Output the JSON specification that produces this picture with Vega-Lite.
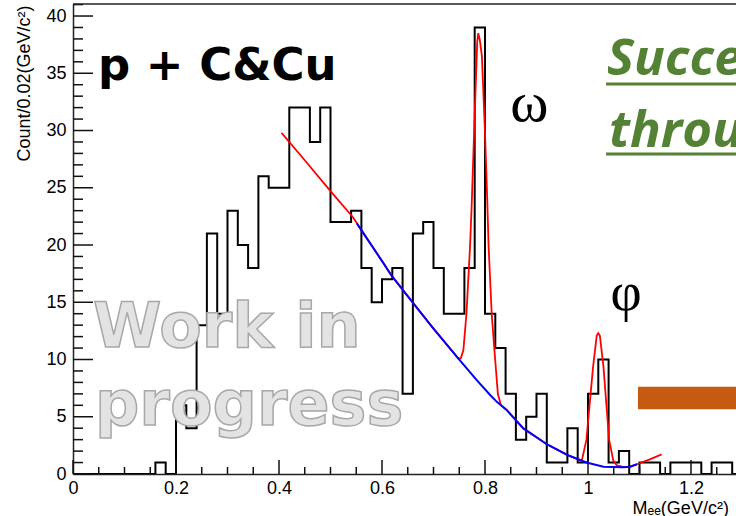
{
  "$schema": "https://vega.github.io/schema/vega-lite/v6.json",
  "autosize": {"type": "none"},
  "padding": {"left": 73, "top": 4, "right": 0, "bottom": 42},
  "width": 663,
  "height": 470,
  "background": "white",
  "config": {"view": {"stroke": null}},
  "data": {"values": [{}]},
  "datasets": {
    "hist": [
      {"m": 0.00, "n": 0}, {"m": 0.02, "n": 0}, {"m": 0.04, "n": 0}, {"m": 0.06, "n": 0},
      {"m": 0.08, "n": 0}, {"m": 0.10, "n": 0}, {"m": 0.12, "n": 0}, {"m": 0.14, "n": 0},
      {"m": 0.16, "n": 1}, {"m": 0.18, "n": 0}, {"m": 0.20, "n": 6}, {"m": 0.22, "n": 4},
      {"m": 0.24, "n": 13}, {"m": 0.26, "n": 21}, {"m": 0.28, "n": 14}, {"m": 0.30, "n": 23},
      {"m": 0.32, "n": 20}, {"m": 0.34, "n": 18}, {"m": 0.36, "n": 26}, {"m": 0.38, "n": 25},
      {"m": 0.40, "n": 25}, {"m": 0.42, "n": 32}, {"m": 0.44, "n": 32}, {"m": 0.46, "n": 29},
      {"m": 0.48, "n": 32}, {"m": 0.50, "n": 22}, {"m": 0.52, "n": 22}, {"m": 0.54, "n": 23},
      {"m": 0.56, "n": 18}, {"m": 0.58, "n": 15}, {"m": 0.60, "n": 17}, {"m": 0.62, "n": 18},
      {"m": 0.64, "n": 7}, {"m": 0.66, "n": 21}, {"m": 0.68, "n": 22}, {"m": 0.70, "n": 18},
      {"m": 0.72, "n": 14}, {"m": 0.74, "n": 14}, {"m": 0.76, "n": 18}, {"m": 0.78, "n": 39},
      {"m": 0.80, "n": 14}, {"m": 0.82, "n": 11}, {"m": 0.84, "n": 7}, {"m": 0.86, "n": 3},
      {"m": 0.88, "n": 5}, {"m": 0.90, "n": 7}, {"m": 0.92, "n": 1}, {"m": 0.94, "n": 1},
      {"m": 0.96, "n": 4}, {"m": 0.98, "n": 1}, {"m": 1.00, "n": 7}, {"m": 1.02, "n": 10},
      {"m": 1.04, "n": 1}, {"m": 1.06, "n": 2}, {"m": 1.08, "n": 0}, {"m": 1.10, "n": 1},
      {"m": 1.12, "n": 1}, {"m": 1.14, "n": 0}, {"m": 1.16, "n": 1}, {"m": 1.18, "n": 1},
      {"m": 1.20, "n": 1}, {"m": 1.22, "n": 0}, {"m": 1.24, "n": 1}, {"m": 1.26, "n": 1},
      {"m": 1.28, "n": 0}, {"m": 1.30, "n": 0}
    ],
    "total": [
      {"m": 0.405, "n": 29.8}, {"m": 0.45, "n": 27.4}, {"m": 0.50, "n": 24.7}, {"m": 0.544, "n": 22.4},
      {"m": 0.557, "n": 21.5}, {"m": 0.603, "n": 18.4}, {"m": 0.619, "n": 17.3}, {"m": 0.661, "n": 14.9},
      {"m": 0.70, "n": 12.7}, {"m": 0.748, "n": 10.1}, {"m": 0.753, "n": 10.1}, {"m": 0.758, "n": 10.8},
      {"m": 0.764, "n": 14.0}, {"m": 0.771, "n": 19.9}, {"m": 0.774, "n": 23.3}, {"m": 0.781, "n": 32.7},
      {"m": 0.785, "n": 37.8}, {"m": 0.787, "n": 38.5}, {"m": 0.790, "n": 37.9}, {"m": 0.794, "n": 36.5},
      {"m": 0.800, "n": 29.8}, {"m": 0.804, "n": 24.5}, {"m": 0.807, "n": 19.9}, {"m": 0.813, "n": 14.0},
      {"m": 0.818, "n": 11.0}, {"m": 0.825, "n": 7.0}, {"m": 0.831, "n": 6.0}, {"m": 0.842, "n": 5.6},
      {"m": 0.874, "n": 4.0}, {"m": 0.92, "n": 2.6}, {"m": 0.96, "n": 1.66}, {"m": 0.98, "n": 1.3},
      {"m": 0.988, "n": 1.15}, {"m": 0.997, "n": 3.0}, {"m": 1.004, "n": 6.5}, {"m": 1.010, "n": 9.4},
      {"m": 1.017, "n": 12.1}, {"m": 1.020, "n": 12.3}, {"m": 1.023, "n": 12.1}, {"m": 1.030, "n": 9.4},
      {"m": 1.036, "n": 5.9}, {"m": 1.041, "n": 3.0}, {"m": 1.049, "n": 1.2}, {"m": 1.056, "n": 0.75},
      {"m": 1.07, "n": 0.6}, {"m": 1.082, "n": 0.64}, {"m": 1.095, "n": 0.85}, {"m": 1.12, "n": 1.28},
      {"m": 1.143, "n": 1.72}
    ],
    "bkg": [
      {"m": 0.551, "n": 21.9}, {"m": 0.557, "n": 21.5}, {"m": 0.603, "n": 18.4}, {"m": 0.619, "n": 17.3},
      {"m": 0.661, "n": 14.9}, {"m": 0.70, "n": 12.7}, {"m": 0.748, "n": 10.1}, {"m": 0.784, "n": 8.2},
      {"m": 0.81, "n": 6.9}, {"m": 0.823, "n": 6.3}, {"m": 0.842, "n": 5.6}, {"m": 0.874, "n": 4.0},
      {"m": 0.92, "n": 2.6}, {"m": 0.96, "n": 1.66}, {"m": 0.997, "n": 1.0}, {"m": 1.03, "n": 0.64},
      {"m": 1.069, "n": 0.59}, {"m": 1.082, "n": 0.64}, {"m": 1.095, "n": 0.85}
    ]
  },
  "layer": [
    {
      "data": {"name": "hist"},
      "mark": {"type": "line", "interpolate": "step-after", "color": "black", "strokeWidth": 2, "clip": true},
      "encoding": {
        "x": {
          "field": "m", "type": "quantitative",
          "scale": {"domain": [0, 1.2874], "nice": false, "zero": false},
          "axis": {
            "orient": "bottom",
            "values": [0, 0.2, 0.4, 0.6, 0.8, 1, 1.2],
            "format": "~g",
            "ticks": false,
            "grid": false,
            "domain": true, "domainColor": "#222", "domainWidth": 1.5,
            "labelFont": "Liberation Sans", "labelFontSize": 18, "labelColor": "black",
            "labelPadding": 5, "labelFlush": false, "labelOverlap": false,
            "title": "Mₑₑ(GeV/c²)",
            "titleFont": "Liberation Sans", "titleFontSize": 18, "titleFontWeight": "normal", "titleColor": "black",
            "titleX": 559, "titleY": 39, "titleAlign": "left", "titleBaseline": "alphabetic", "titleAnchor": null
          }
        },
        "y": {
          "field": "n", "type": "quantitative",
          "scale": {"domain": [0, 41.05], "nice": false, "zero": false},
          "axis": {
            "orient": "left",
            "values": [0, 5, 10, 15, 20, 25, 30, 35, 40],
            "ticks": false,
            "grid": false,
            "domain": true, "domainColor": "#222", "domainWidth": 1.5,
            "labelFont": "Liberation Sans", "labelFontSize": 18, "labelColor": "black",
            "labelPadding": 7, "labelOverlap": false, "labelFlush": false,
            "title": "Count/0.02(GeV/c²)",
            "titleFont": "Liberation Sans", "titleFontSize": 18, "titleFontWeight": "normal", "titleColor": "black",
            "titleX": -49, "titleY": 1, "titleAngle": -90, "titleAlign": "right", "titleBaseline": "middle", "titleAnchor": null
          }
        }
      }
    },
    {
      "data": {"values": [{"v": 0}, {"v": 0.2}, {"v": 0.4}, {"v": 0.6}, {"v": 0.8}, {"v": 1.0}, {"v": 1.2}]},
      "mark": {"type": "rule", "color": "#111", "strokeWidth": 1.5},
      "encoding": {"x": {"field": "v", "type": "quantitative"}, "y": {"datum": 0}, "y2": {"datum": 1.22}}
    },
    {
      "data": {"values": [
        {"v": 0.05}, {"v": 0.1}, {"v": 0.15}, {"v": 0.25}, {"v": 0.3}, {"v": 0.35}, {"v": 0.45},
        {"v": 0.5}, {"v": 0.55}, {"v": 0.65}, {"v": 0.7}, {"v": 0.75}, {"v": 0.85}, {"v": 0.9},
        {"v": 0.95}, {"v": 1.05}, {"v": 1.1}, {"v": 1.15}, {"v": 1.25}
      ]},
      "mark": {"type": "rule", "color": "#111", "strokeWidth": 1.5},
      "encoding": {"x": {"field": "v", "type": "quantitative"}, "y": {"datum": 0}, "y2": {"datum": 0.61}}
    },
    {
      "data": {"values": [{"v": 0}, {"v": 5}, {"v": 10}, {"v": 15}, {"v": 20}, {"v": 25}, {"v": 30}, {"v": 35}, {"v": 40}]},
      "mark": {"type": "rule", "color": "#111", "strokeWidth": 1.5},
      "encoding": {"y": {"field": "v", "type": "quantitative"}, "x": {"datum": 0}, "x2": {"datum": 0.0388}}
    },
    {
      "data": {"values": [
        {"v": 1}, {"v": 2}, {"v": 3}, {"v": 4}, {"v": 6}, {"v": 7}, {"v": 8}, {"v": 9},
        {"v": 11}, {"v": 12}, {"v": 13}, {"v": 14}, {"v": 16}, {"v": 17}, {"v": 18}, {"v": 19},
        {"v": 21}, {"v": 22}, {"v": 23}, {"v": 24}, {"v": 26}, {"v": 27}, {"v": 28}, {"v": 29},
        {"v": 31}, {"v": 32}, {"v": 33}, {"v": 34}, {"v": 36}, {"v": 37}, {"v": 38}, {"v": 39}, {"v": 41}
      ]},
      "mark": {"type": "rule", "color": "#111", "strokeWidth": 1.5},
      "encoding": {"y": {"field": "v", "type": "quantitative"}, "x": {"datum": 0}, "x2": {"datum": 0.0194}}
    },
    {
      "data": {"name": "total"},
      "mark": {"type": "line", "color": "#ff0000", "strokeWidth": 1.8, "clip": true},
      "encoding": {
        "x": {"field": "m", "type": "quantitative"},
        "y": {"field": "n", "type": "quantitative"}
      }
    },
    {
      "data": {"name": "bkg"},
      "mark": {"type": "line", "color": "#0000ff", "strokeWidth": 2, "clip": true},
      "encoding": {
        "x": {"field": "m", "type": "quantitative"},
        "y": {"field": "n", "type": "quantitative"}
      }
    },
    {
      "mark": {"type": "rule", "color": "#222", "strokeWidth": 1.5},
      "encoding": {"y": {"datum": 41.05}}
    },
    {
      "mark": {"type": "text", "text": "Work in", "font": "DejaVu Sans", "fontWeight": "bold", "fontSize": 62, "align": "left", "baseline": "alphabetic", "color": "#e3e3e3", "stroke": "#a8a8a8", "strokeWidth": 1.5},
      "encoding": {"x": {"datum": 0.0388}, "y": {"datum": 11.09}}
    },
    {
      "mark": {"type": "text", "text": "progress", "font": "DejaVu Sans", "fontWeight": "bold", "fontSize": 62, "align": "left", "baseline": "alphabetic", "color": "#e3e3e3", "stroke": "#a8a8a8", "strokeWidth": 1.5},
      "encoding": {"x": {"datum": 0.0427}, "y": {"datum": 4.28}}
    },
    {
      "mark": {"type": "text", "text": "p + C&Cu", "font": "DejaVu Sans", "fontWeight": "bold", "fontSize": 45, "align": "left", "baseline": "alphabetic", "color": "black"},
      "encoding": {"x": {"datum": 0.0485}, "y": {"datum": 34.4}}
    },
    {
      "mark": {"type": "text", "text": "ω", "font": "Liberation Serif", "fontSize": 58, "align": "center", "baseline": "alphabetic", "color": "black"},
      "encoding": {"x": {"datum": 0.886}, "y": {"datum": 30.8}}
    },
    {
      "mark": {"type": "text", "text": "φ", "font": "Liberation Serif", "fontSize": 54, "align": "center", "baseline": "alphabetic", "color": "black"},
      "encoding": {"x": {"datum": 1.074}, "y": {"datum": 14.3}}
    },
    {
      "mark": {"type": "text", "text": "Successfully", "font": "Open Sans", "fontWeight": "bold", "fontStyle": "italic", "fontSize": 51, "align": "left", "baseline": "alphabetic", "color": "#548235"},
      "encoding": {"x": {"datum": 1.037}, "y": {"datum": 34.85}}
    },
    {
      "mark": {"type": "text", "text": "through", "font": "Open Sans", "fontWeight": "bold", "fontStyle": "italic", "fontSize": 51, "align": "left", "baseline": "alphabetic", "color": "#548235"},
      "encoding": {"x": {"datum": 1.041}, "y": {"datum": 28.56}}
    },
    {
      "mark": {"type": "rule", "color": "#548235", "strokeWidth": 3},
      "encoding": {"x": {"datum": 1.035}, "x2": {"datum": 1.6}, "y": {"datum": 34.06}}
    },
    {
      "mark": {"type": "rule", "color": "#548235", "strokeWidth": 3},
      "encoding": {"x": {"datum": 1.035}, "x2": {"datum": 1.6}, "y": {"datum": 27.95}}
    },
    {
      "mark": {"type": "rect", "color": "#c55a11"},
      "encoding": {"x": {"datum": 1.097}, "x2": {"datum": 1.6}, "y": {"datum": 7.62}, "y2": {"datum": 5.65}}
    }
  ]
}
